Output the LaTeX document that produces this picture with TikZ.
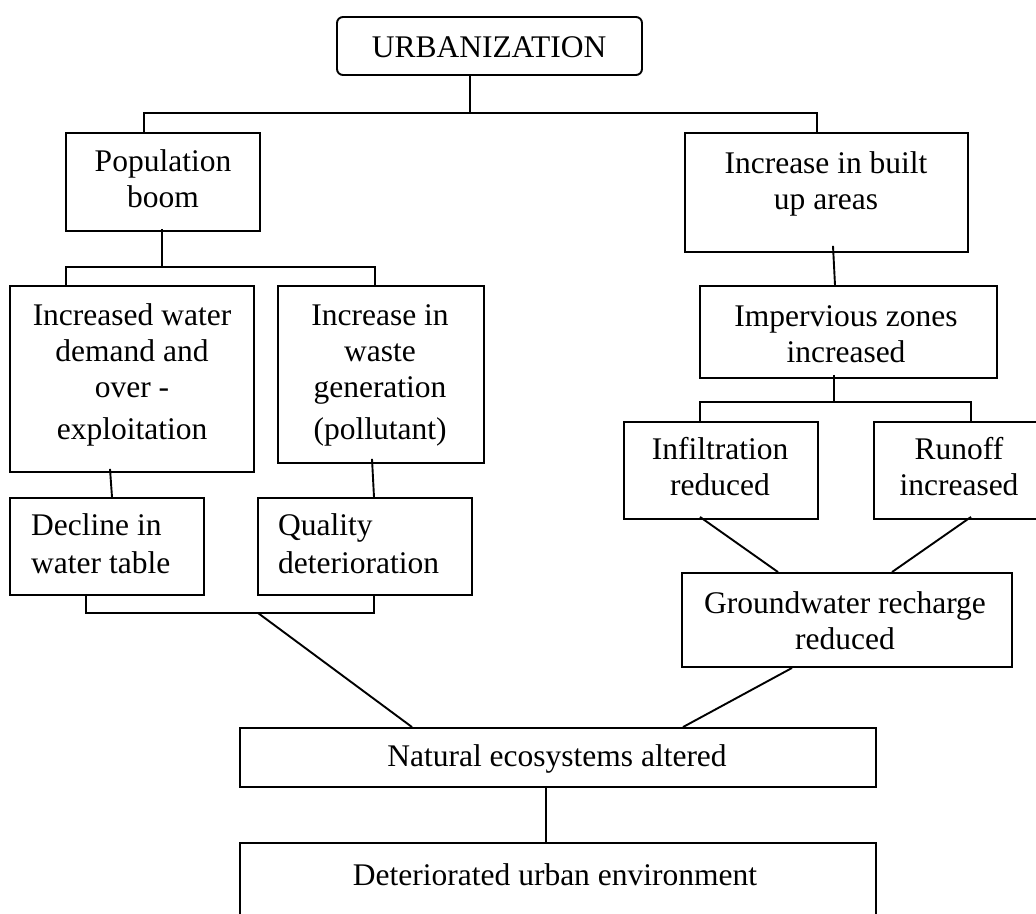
\documentclass[tikz,border=0pt]{standalone}
\usepackage{fontspec}
\setmainfont{Liberation Serif}
\usetikzlibrary{fit}
\begin{document}
\begin{tikzpicture}[x=1pt,y=-1pt,
  box/.style={draw, inner sep=0pt, line width=1.9pt},
  txt/.style={inner sep=0pt, align=center, anchor=base, font=\fontsize{31.5}{36}\selectfont},
  txl/.style={inner sep=0pt, align=left, anchor=base west, font=\fontsize{31.5}{36}\selectfont},
  conn/.style={line width=1.9pt}]
\useasboundingbox[fill=white] (0,0) rectangle (1036,913);

% boxes
\node[box, rounded corners=6pt, fit={(337,17) (642,75)}] (urb) {};
\node[box, fit={(66,133) (260,231)}] (pop) {};
\node[box, fit={(685,133) (968,252)}] (built) {};
\node[box, fit={(10,286) (254,472)}] (water) {};
\node[box, fit={(278,286) (484,463)}] (waste) {};
\node[box, fit={(10,498) (204,595)}] (decl) {};
\node[box, fit={(258,498) (472,595)}] (qual) {};
\node[box, fit={(700,286) (997,378)}] (imp) {};
\node[box, fit={(624,422) (818,519)}] (infl) {};
\node[box, fit={(874,422) (1044,519)}] (run) {};
\node[box, fit={(682,573) (1012,667)}] (gw) {};
\node[box, fit={(240,728) (876,787)}] (nat) {};
\node[inner sep=0pt, fit={(240,843) (876,930)}] (det) {};
\draw[conn] (det.south west) -- (det.north west) -- (det.north east) -- (det.south east);

% texts (anchor = baseline of the last line)
\node[txt] (turb) at (489,57) {URBANIZATION};
\node[txt] (tpop) at (163,207) {Population\\boom};
\node[txt] (tbuilt) at (826,209) {Increase in built\\up areas};
\node[txt] (twater) at (132,439) {Increased water\\demand and\\over -\\[6pt]exploitation};
\node[txt] (twaste) at (380,439) {Increase in\\waste\\generation\\[6pt](pollutant)};
\node[txl] (tdecl) at (31,573) {Decline in\\[2pt]water table};
\node[txl] (tqual) at (278,573) {Quality\\[2pt]deterioration};
\node[txt] (timp) at (846,362) {Impervious zones\\increased};
\node[txt] (tinfl) at (720,495) {Infiltration\\reduced};
\node[txt] (trun) at (959,495) {Runoff\\increased};
\node[txt] (tgw) at (845,649) {Groundwater recharge\\reduced};
\node[txt] (tnat) at (557,766) {Natural ecosystems altered};
\node[txt] (tdet) at (555,885) {Deteriorated urban environment};

% junction coordinates
\coordinate (j1) at (470,113);
\coordinate (ja) at (144,113);
\coordinate (jb) at (817,113);
\coordinate (j2) at (162,267);
\coordinate (jc) at (66,267);
\coordinate (jd) at (375,267);
\coordinate (j3) at (834,402);
\coordinate (je) at (700,402);
\coordinate (jf) at (971,402);
\coordinate (jl) at (86,613);
\coordinate (jr) at (374,613);
\coordinate (jm) at (258,613);

% connectors
\draw[conn] (urb.south -| j1) -- (j1);
\draw[conn] (pop.north -| ja) -- (ja) -- (jb) -- (built.north -| jb);
\draw[conn] ([yshift=3pt]pop.south -| j2) -- (j2);
\draw[conn] (water.north -| jc) -- (jc) -- (jd) -- (waste.north -| jd);
\draw[conn] ([xshift=6.5pt,yshift=7pt]built.south) -- ([xshift=-13.5pt]imp.north);
\draw[conn] ([yshift=4pt]imp.south -| j3) -- (j3);
\draw[conn] (infl.north -| je) -- (je) -- (jf) -- (run.north -| jf);
\draw[conn] ([xshift=-22pt,yshift=4pt]water.south) -- ([xshift=5pt]decl.north);
\draw[conn] ([xshift=-9pt,yshift=5pt]waste.south) -- ([xshift=9pt]qual.north);
\draw[conn] ([yshift=2pt]decl.south -| jl) -- (jl) -- (jr) -- ([yshift=2pt]qual.south -| jr);
\draw[conn] (jm) -- ([xshift=-146pt]nat.north);
\draw[conn] ([xshift=-21pt,yshift=3pt]infl.south) -- ([xshift=-69pt]gw.north);
\draw[conn] ([xshift=12pt,yshift=3pt]run.south) -- ([xshift=45pt]gw.north);
\draw[conn] ([xshift=-55pt]gw.south) -- ([xshift=125pt]nat.north);
\draw[conn] ([xshift=-12pt,yshift=2pt]nat.south) -- ([xshift=-12pt]det.north);
\end{tikzpicture}
\end{document}
